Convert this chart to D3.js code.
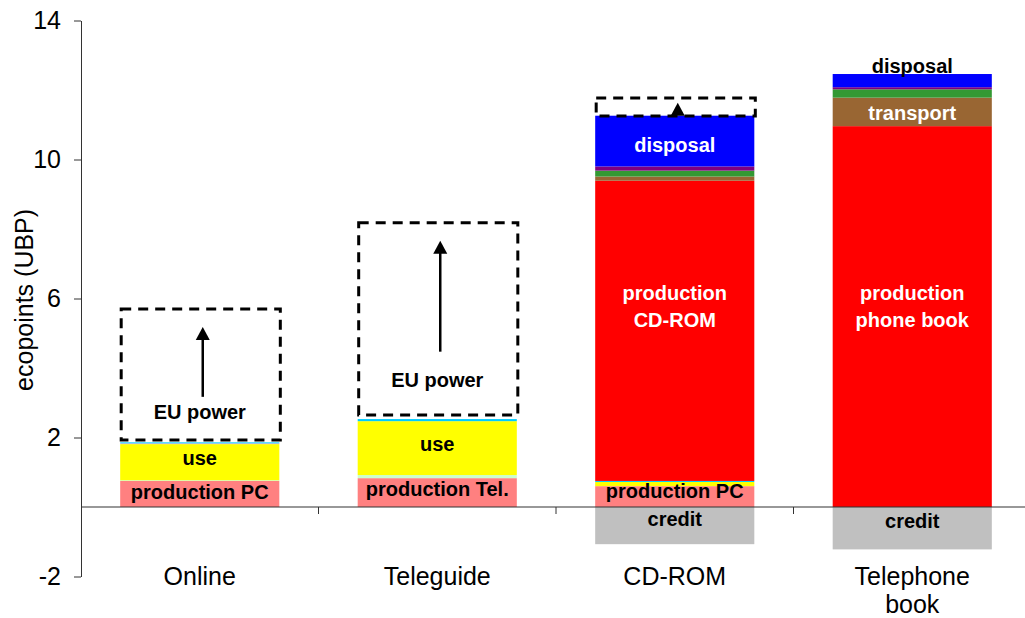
<!DOCTYPE html>
<html>
<head>
<meta charset="utf-8">
<script src="https://cdn.jsdelivr.net/npm/d3@7"></script>
<style>
  body { margin: 0; background: #fff; }
  svg { display: block; font-family: "Liberation Sans", Arial, sans-serif; }
</style>
</head>
<body>
<div id="chart"></div>
<script>
const categories = ['Online', 'Teleguide', 'CD-ROM', 'Telephone book']

// stacked segments, bottom to top (ecopoints, UBP)
const device = [0.75, 0.83, 0.60, 0]
const network = [0.02, 0.09, 0, 0]
const use = [1.04, 1.55, 0.12, 0]
const standby = [0.02, 0, 0, 0]
const line = [0.03, 0.06, 0.03, 0]
const media = [0, 0, 8.64, 10.96]
const transport = [0, 0, 0.12, 0.82]
const packaging = [0, 0, 0.17, 0.24]
const misc = [0, 0, 0.12, 0.06]
const disposal = [0, 0, 1.46, 0.38]
const credit = [0, 0, -1.07, -1.22]

// "EU power" scenario, dashed boxes and arrows
const euLow = [1.93, 2.65, 11.25, null]
const euHigh = [5.70, 8.18, 11.77, null]
const arrowBase = [3.17, 4.47, 11.34, null]
const arrowTip = [5.18, 7.66, 11.63, null]

const yTicks = [-2, 2, 6, 10, 14]

// in-bar labels: category, segment they sit on, text lines, value
const labels = [
  ['Online', 'device', ['production PC'], 0.43],
  ['Online', 'use', ['use'], 1.40],
  ['Online', 'eu', ['EU power'], 2.73],
  ['Teleguide', 'device', ['production Tel.'], 0.52],
  ['Teleguide', 'use', ['use'], 1.80],
  ['Teleguide', 'eu', ['EU power'], 3.65],
  ['CD-ROM', 'device', ['production PC'], 0.46],
  ['CD-ROM', 'credit', ['credit'], -0.35],
  ['CD-ROM', 'media', ['production', 'CD-ROM'], 5.77],
  ['CD-ROM', 'disposal', ['disposal'], 10.42],
  ['Telephone book', 'credit', ['credit'], -0.40],
  ['Telephone book', 'media', ['production', 'phone book'], 5.77],
  ['Telephone book', 'transport', ['transport'], 11.34],
  ['Telephone book', 'above', ['disposal'], 12.69]
]

const series = { device, network, use, standby, line, media, transport, packaging, misc, disposal, credit }
const colors = {
  device: '#ff8080', network: '#ccffcc', use: '#ffff00', standby: '#ff99cc', line: '#00ccff',
  media: '#ff0000', transport: '#996633', packaging: '#339933', misc: '#800080',
  disposal: '#0000ff', credit: '#c0c0c0'
}
const darkSeries = ['media', 'transport', 'disposal']

const width = 1025, height = 618
const plotLeft = 81, plotTop = 20.5, plotBottom = 576.5

const svg = d3.select('#chart').append('svg')
    .attr('width', width)
    .attr('height', height)

const x = d3.scaleBand()
    .domain(categories)
    .range([plotLeft, plotLeft + 4 * 237.5])
    .paddingInner(0.33)
    .paddingOuter(0.165)

const y = d3.scaleLinear()
    .domain([-2, 14])
    .range([plotBottom, plotTop])

const keys = Object.keys(series)
const table = categories.map((c, i) => {
  let row = { category: c }
  keys.forEach(k => { row[k] = series[k][i] })
  return row
})

const stacked = d3.stack()
    .keys(keys)
    .offset(d3.stackOffsetDiverging)(table)

svg.append('g')
  .selectAll('g')
  .data(stacked)
  .join('g')
    .attr('fill', d => colors[d.key])
  .selectAll('rect')
  .data(d => d.filter(s => s[1] !== s[0]))
  .join('rect')
    .attr('x', d => x(d.data.category))
    .attr('width', x.bandwidth())
    .attr('y', d => y(Math.max(d[0], d[1])))
    .attr('height', d => Math.abs(y(d[0]) - y(d[1])))

// dashed EU power boxes
const eu = categories.map((c, i) => ({ c, low: euLow[i], high: euHigh[i], base: arrowBase[i], tip: arrowTip[i] }))
    .filter(d => d.low !== null)

svg.append('g')
  .selectAll('rect')
  .data(eu)
  .join('rect')
    .attr('x', d => x(d.c) + 1)
    .attr('width', x.bandwidth())
    .attr('y', d => y(d.high))
    .attr('height', d => y(d.low) - y(d.high))
    .attr('fill', 'none')
    .attr('stroke', '#000')
    .attr('stroke-width', 3)
    .attr('stroke-dasharray', '10,7')

const arrows = svg.append('g')
arrows.selectAll('line')
  .data(eu)
  .join('line')
    .attr('x1', d => x(d.c) + x.bandwidth() / 2 + 3)
    .attr('x2', d => x(d.c) + x.bandwidth() / 2 + 3)
    .attr('y1', d => y(d.base))
    .attr('y2', d => y(d.tip) + 10)
    .attr('stroke', '#000')
    .attr('stroke-width', 2.5)

arrows.selectAll('path')
  .data(eu)
  .join('path')
    .attr('d', d => {
      const cx = x(d.c) + x.bandwidth() / 2 + 3, ty = y(d.tip)
      return 'M' + cx + ',' + ty + 'L' + (cx + 7) + ',' + (ty + 13) + 'L' + (cx - 7) + ',' + (ty + 13) + 'Z'
    })
    .attr('fill', '#000')

// x axis at zero with ticks between categories
const xAxis = svg.append('g')
xAxis.append('line')
    .attr('x1', plotLeft)
    .attr('x2', width)
    .attr('y1', y(0))
    .attr('y2', y(0))
    .attr('stroke', '#333')
    .attr('stroke-width', 1.2)

xAxis.selectAll('.sep')
  .data(categories.slice(0, -1))
  .join('line')
    .attr('class', 'sep')
    .attr('x1', d => x(d) + x.bandwidth() + x.step() * x.paddingInner() / 2)
    .attr('x2', d => x(d) + x.bandwidth() + x.step() * x.paddingInner() / 2)
    .attr('y1', y(0))
    .attr('y2', y(0) + 7)
    .attr('stroke', '#333')

xAxis.selectAll('text')
  .data(categories)
  .join('text')
    .attr('x', d => x(d) + x.bandwidth() / 2)
    .attr('y', y(-2) + 8)
    .attr('text-anchor', 'middle')
    .attr('font-size', 25)
    .attr('fill', '#000')
  .selectAll('tspan')
  .data(d => d.length > 10 ? d.split(' ') : [d])
  .join('tspan')
    .attr('x', function() { return this.parentNode.getAttribute('x') })
    .attr('dy', (d, i) => i ? 28 : 0)
    .text(d => d)

// y axis
const yAxis = svg.append('g')
    .attr('transform', 'translate(' + plotLeft + ',0)')
    .call(d3.axisLeft(y).tickValues(yTicks).tickFormat(d => String(d))
      .tickSize(7).tickSizeOuter(0).tickPadding(13))

yAxis.select('.domain').attr('stroke', '#333')
yAxis.selectAll('.tick line').attr('stroke', '#333')
yAxis.selectAll('.tick text')
    .attr('font-size', 25)
    .attr('font-family', '"Liberation Sans", Arial, sans-serif')
    .attr('fill', '#000')

svg.append('text')
    .attr('transform', 'translate(33,' + y(5.96) + ') rotate(-90)')
    .attr('text-anchor', 'middle')
    .attr('font-size', 25)
    .attr('fill', '#000')
    .text('ecopoints (UBP)')

// segment labels
svg.append('g')
  .selectAll('text')
  .data(labels)
  .join('text')
    .attr('x', d => x(d[0]) + x.bandwidth() / 2)
    .attr('y', d => y(d[3]) - (d[2].length - 1) * 13.5)
    .attr('text-anchor', 'middle')
    .attr('font-size', 20)
    .attr('font-weight', 'bold')
    .attr('fill', d => darkSeries.includes(d[1]) ? '#fff' : '#000')
  .selectAll('tspan')
  .data(d => d[2])
  .join('tspan')
    .attr('x', function() { return this.parentNode.getAttribute('x') })
    .attr('dy', (d, i) => i ? 27 : '0.35em')
    .text(d => d)
</script>
</body>
</html>
